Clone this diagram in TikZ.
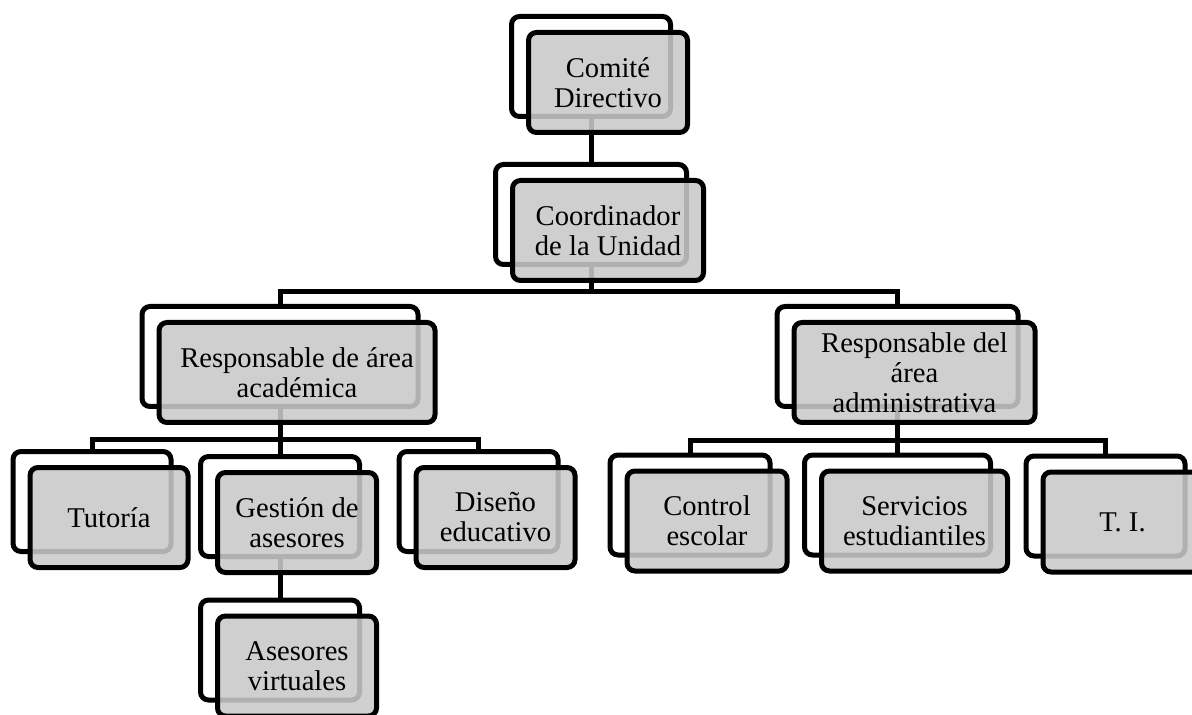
\documentclass[tikz,border=0pt]{standalone}
\usepackage{fontspec}
\setmainfont{Liberation Serif}
\definecolor{cardgray}{HTML}{C9C9C9}

\begin{document}
\begin{tikzpicture}[x=0.5pt,y=-0.5pt,
  backcard/.style={draw=black,fill=white,line width=2.5pt,rounded corners=4pt,minimum height=50pt,inner sep=0pt},
  frontcard/.style={draw=black,fill=cardgray,fill opacity=0.88,text opacity=1,line width=2.5pt,rounded corners=4pt,minimum height=50pt,inner sep=2pt,align=center,font=\fontsize{14.3}{15}\selectfont},
  link/.style={draw=black,line width=2.5pt}]
\useasboundingbox (0,0) rectangle (1192,715);
\clip (0,0) rectangle (1192,715);
% Back cards
\foreach \unit/\x/\y/\w in {comite/591/66.5/159, coord/591/214.5/191, acad/280/356.5/276, admin/897.5/356.5/241,
    tutoria/92/501.5/158, gestion/280/506.5/159, diseno/478.5/501.5/159, asesores/280/650/159,
    control/690/505/160, servicios/897.5/505/186, ti/1105.5/506/159} {
    \node[backcard, minimum width=\w*0.5pt] (\unit-b) at (\x,\y) {};
}
% Connectors
\coordinate (bus1) at (591,292);
\coordinate (bus2) at (280,439);
\coordinate (bus3) at (897.5,440);
\draw[link] (comite-b.south) -- (coord-b.north);
\draw[link] (coord-b.south) -- (bus1);
\draw[link] (acad-b.north) |- (bus1) -| (admin-b.north);
\draw[link] (acad-b.south) -- (bus2);
\draw[link] (tutoria-b.north) |- (bus2) -| (diseno-b.north);
\draw[link] (bus2) -- (gestion-b.north);
\draw[link] (gestion-b.south) -- (asesores-b.north);
\draw[link] (admin-b.south) -- (bus3);
\draw[link] (control-b.north) |- (bus3) -| (ti-b.north);
\draw[link] (bus3) -- (servicios-b.north);
% Front cards
\foreach \unit/\w/\txt in {comite/159/{Comité\\Directivo}, coord/191/{Coordinador\\de la Unidad},
    acad/276/{Responsable de área\\académica}, admin/241/{Responsable del\\área\\administrativa},
    tutoria/158/{Tutoría}, gestion/159/{Gestión de\\asesores}, diseno/159/{Diseño\\educativo},
    asesores/159/{Asesores\\virtuales}, control/160/{Control\\escolar},
    servicios/186/{Servicios\\estudiantiles}, ti/159/{T. I.}} {
    \node[frontcard, minimum width=\w*0.5pt] (\unit) at ([shift={(17,16)}]\unit-b.center) {\txt};
}
\end{tikzpicture}
\end{document}
